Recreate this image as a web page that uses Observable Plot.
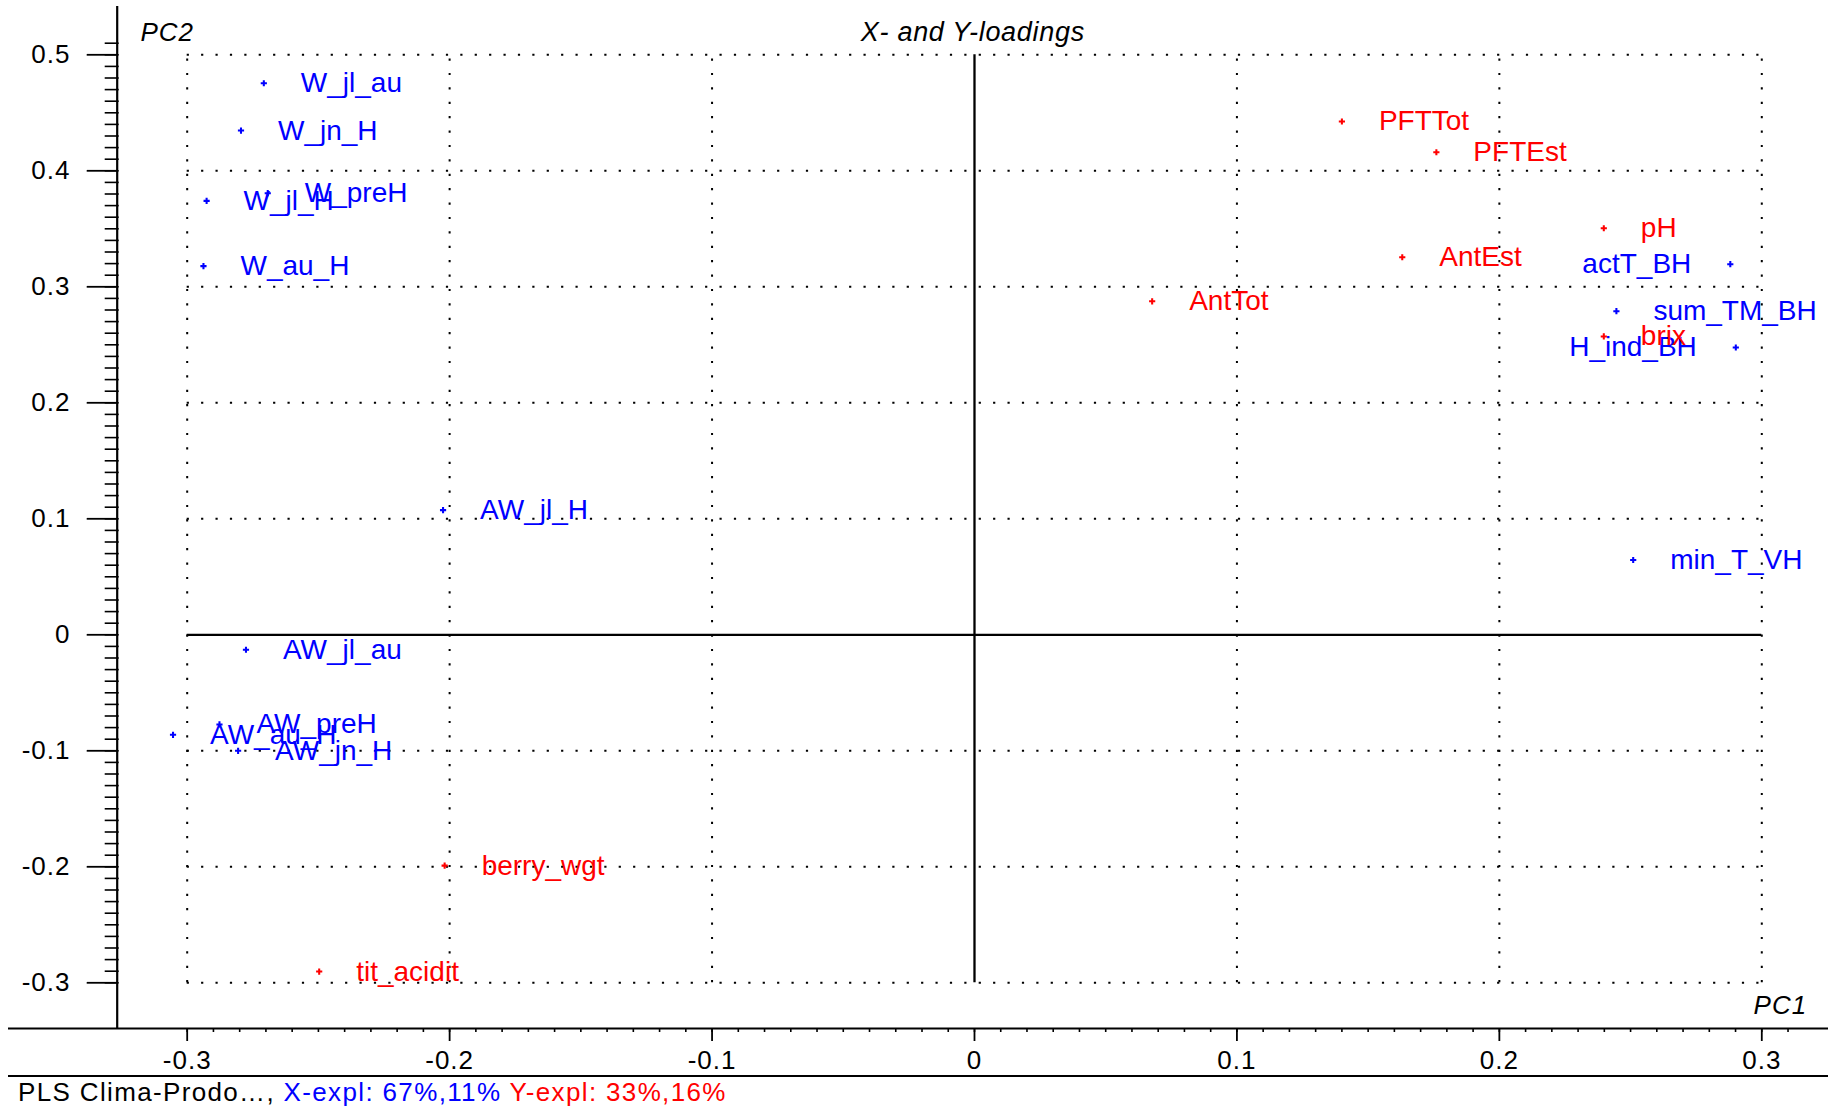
<!DOCTYPE html>
<html><head><meta charset="utf-8">
<script src="https://cdn.jsdelivr.net/npm/d3@7"></script>
<script src="https://cdn.jsdelivr.net/npm/@observablehq/plot@0.6"></script>
<style>
html,body{margin:0;padding:0;background:#fff;overflow:hidden}
#chart svg{display:block}
g[aria-label$="tick label"] text{letter-spacing:1px}
#caption{margin-left:8px;border-top:2px solid #000;height:32px;line-height:32px;padding-left:10px;font:26px "Liberation Sans",Arial,sans-serif;letter-spacing:1.35px;white-space:nowrap}
</style></head><body>
<div id="chart"></div>
<div id="caption"><span>PLS Clima-Prodo…, </span><span style="color:#0000ff">X-expl: 67%,11%</span><span style="color:#ff0000"> Y-expl: 33%,16%</span></div>
<script>
// X-loadings (blue)
const xNames = ["W_jl_au","W_jn_H","W_jl_H","W_preH","W_au_H","AW_jl_H","AW_jl_au","AW_preH","AW_au_H","AW_jn_H","actT_BH","sum_TM_BH","H_ind_BH","min_T_VH"];
const xPC1   = [-0.2708,-0.2795,-0.2926,-0.2693,-0.2938,-0.2025,-0.2776,-0.2877,-0.3054,-0.2806,0.2880,0.2446,0.2901,0.2510];
const xPC2   = [0.4755,0.4347,0.3741,0.3807,0.3178,0.1075,-0.0129,-0.0773,-0.0862,-0.1000,0.3195,0.2790,0.2477,0.0645];
// Y-loadings (red)
const yNames = ["PFTTot","PFTEst","pH","AntEst","AntTot","brix","berry_wgt","tit_acidit"];
const yPC1   = [0.1400,0.1760,0.2398,0.1630,0.0677,0.2398,-0.2019,-0.2497];
const yPC2   = [0.4425,0.4160,0.3505,0.3255,0.2875,0.2572,-0.1990,-0.2903];
// axis ticks
const xTicks = [-0.3,-0.2,-0.1,0,0.1,0.2,0.3];
const yTicks = [-0.3,-0.2,-0.1,0,0.1,0.2,0.3,0.4,0.5];

const BLUE = "#0000ff", RED = "#ff0000";
const leftSide = new Set(["actT_BH","H_ind_BH"]);
const xData = xNames.map((n,i)=>({name:n, pc1:xPC1[i], pc2:xPC2[i]}));
const yData = yNames.map((n,i)=>({name:n, pc1:yPC1[i], pc2:yPC2[i]}));

const W = 1828, H = 1075;
const mL = 116.7, mR = 0, mT = 6, mB = 47;
const xDom = [-0.32667, 0.32542];
const yDom = [-0.3394, 0.54164];
const kx = (W - mL - mR) / (xDom[1] - xDom[0]);
const ky = (H - mT - mB) / (yDom[1] - yDom[0]);
const gx0 = d3.min(xTicks), gx1 = d3.max(xTicks);
const gy0 = d3.min(yTicks), gy1 = d3.max(yTicks);
const minorX = d3.range(-30, 32).map(i => i / 100);
const minorY = d3.range(-30, 52).map(i => i / 100);
const fmt = d => d === 0 ? "0" : d.toFixed(1);
const FONT = "Liberation Sans, Arial, sans-serif";
const dots = "2.2,12.2";

const chart = Plot.plot({
  width: W, height: H,
  marginLeft: mL, marginRight: mR, marginTop: mT, marginBottom: mB,
  style: {fontFamily: FONT, background: "#fff", color: "#000", overflow: "visible"},
  x: {domain: xDom, label: null},
  y: {domain: yDom, label: null},
  marks: [
    // dotted grid
    Plot.ruleX(xTicks.filter(d => d !== 0), {y1: gy0, y2: gy1, stroke: "#000", strokeWidth: 2, strokeDasharray: dots}),
    Plot.ruleY(yTicks.filter(d => d !== 0), {x1: gx0, x2: gx1, stroke: "#000", strokeWidth: 2, strokeDasharray: dots}),
    // zero lines
    Plot.ruleX([0], {y1: gy0, y2: gy1, stroke: "#000", strokeWidth: 2.3}),
    Plot.ruleY([0], {x1: gx0, x2: gx1, stroke: "#000", strokeWidth: 2.3}),
    // axis lines
    Plot.ruleX([xDom[0]], {stroke: "#000", strokeWidth: 2.2}),
    Plot.ruleY([yDom[0]], {x1: xDom[0] - (mL - 8) / kx, x2: xDom[1], stroke: "#000", strokeWidth: 2.2}),
    // minor ticks
    Plot.ruleY(minorY, {x1: xDom[0] - 12 / kx, x2: xDom[0] + 2 / kx, stroke: "#000", strokeWidth: 1.6}),
    Plot.ruleX(minorX, {y1: yDom[0], y2: yDom[0] - 4 / ky, stroke: "#000", strokeWidth: 1.6}),
    // major axes
    Plot.axisY({ticks: yTicks, tickSize: 30, tickPadding: 16.7, tickFormat: fmt, fontSize: 26, strokeWidth: 1.8, label: null}),
    Plot.axisX({ticks: xTicks, tickSize: 13, tickPadding: 9, tickFormat: fmt, fontSize: 26, strokeWidth: 1.8, label: null}),
    // titles
    Plot.text(["X- and Y-loadings"], {text: d => d, frameAnchor: "top", dy: 25.7, lineAnchor: "middle", fontSize: 27, fontStyle: "italic", fill: "#000"}),
    Plot.text(["PC2"], {text: d => d, frameAnchor: "top-left", textAnchor: "start", dx: 23.3, dy: 25.7, lineAnchor: "middle", fontSize: 26, fontStyle: "italic", fill: "#000"}),
    Plot.text(["PC1"], {text: d => d, frameAnchor: "bottom-right", textAnchor: "end", dx: -21.3, dy: -23.3, lineAnchor: "middle", fontSize: 26, fontStyle: "italic", fill: "#000"}),
    // X-loadings
    Plot.dot(xData, {x: "pc1", y: "pc2", symbol: "cross", r: 2.6, fill: BLUE, stroke: null}),
    Plot.text(xData.filter(d => !leftSide.has(d.name)), {x: "pc1", y: "pc2", text: "name", dx: 37, textAnchor: "start", lineAnchor: "middle", fontSize: 28, fill: BLUE}),
    Plot.text(xData.filter(d => leftSide.has(d.name)), {x: "pc1", y: "pc2", text: "name", dx: -39, textAnchor: "end", lineAnchor: "middle", fontSize: 28, fill: BLUE}),
    // Y-loadings
    Plot.dot(yData, {x: "pc1", y: "pc2", symbol: "cross", r: 2.6, fill: RED, stroke: null}),
    Plot.text(yData, {x: "pc1", y: "pc2", text: "name", dx: 37, textAnchor: "start", lineAnchor: "middle", fontSize: 28, fill: RED})
  ]
});
// letter spacing of the title-like texts
d3.select(chart).selectAll("text")
  .filter(function () { return this.textContent === "X- and Y-loadings"; })
  .style("letter-spacing", "0.7px");
d3.select(chart).selectAll("text")
  .filter(function () { return this.textContent === "PC1" || this.textContent === "PC2"; })
  .style("letter-spacing", "1px");
document.getElementById("chart").appendChild(chart);
</script>
</body></html>
